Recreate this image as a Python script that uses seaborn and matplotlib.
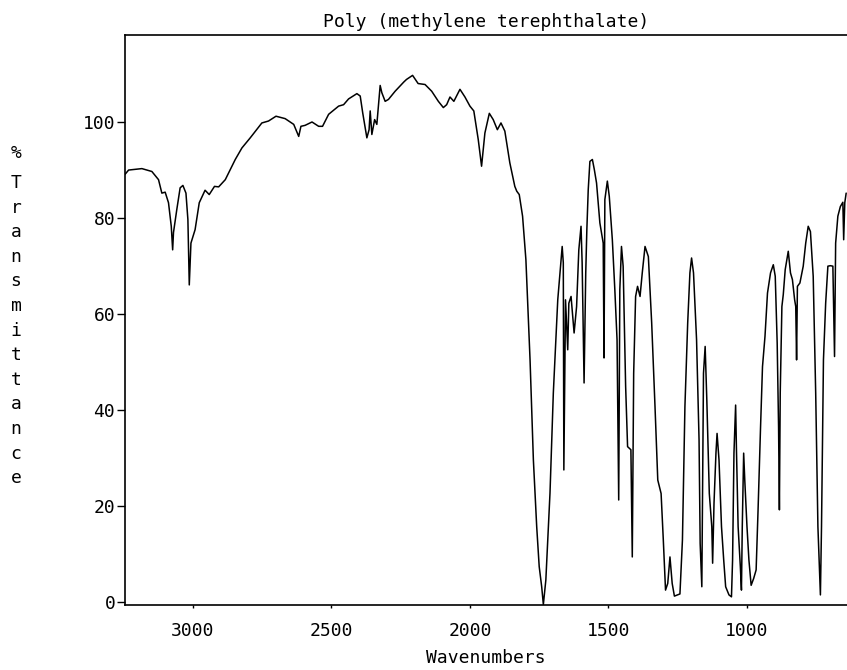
import matplotlib
matplotlib.use('Agg')
import matplotlib.pyplot as plt
import seaborn as sns
import pandas as pd

# IR spectrum, high to low wavenumber
wavenumber = [
    3245, 3232, 3184, 3148, 3124, 3112, 3100, 3088, 3078, 3073, 3070, 3058,
    3046, 3036, 3025, 3018, 3013, 3007, 2992, 2977, 2956, 2941, 2922, 2907,
    2883, 2847, 2823, 2793, 2751, 2727, 2700, 2667, 2636, 2618, 2610, 2595,
    2570, 2546, 2532, 2510, 2474, 2456, 2438, 2408, 2396, 2387, 2372, 2364,
    2360, 2354, 2344, 2336, 2324, 2318, 2306, 2294, 2270, 2239,
    2229, 2207, 2187, 2162, 2138, 2114, 2096, 2084, 2072, 2058, 2036, 2018,
    2000, 1986, 1970, 1958, 1946, 1930, 1916, 1901, 1888, 1874, 1856, 1838,
    1831, 1822, 1810, 1798, 1783, 1771, 1759, 1750, 1741, 1735, 1726, 1711,
    1699,
    1683, 1675, 1667, 1663, 1661, 1655, 1647, 1643, 1635, 1624, 1615, 1607,
    1599, 1595, 1588, 1582, 1578, 1573, 1567, 1558, 1551, 1543, 1531, 1519,
    1516, 1513, 1504, 1497, 1486, 1477, 1469, 1463, 1459, 1453, 1447, 1438,
    1431, 1419, 1414, 1409, 1402, 1395, 1386, 1378, 1368, 1356, 1344, 1332,
    1322, 1310, 1302, 1294, 1286, 1278, 1270, 1262, 1242, 1233, 1224, 1214,
    1206, 1200, 1193, 1182, 1173,
    1169, 1163, 1157, 1151, 1145, 1136, 1127, 1124, 1119, 1112, 1108, 1101,
    1092, 1084, 1077, 1065, 1056, 1052, 1047, 1041, 1038, 1032, 1024, 1020,
    1017, 1012, 1008, 1000, 993, 985, 976, 967, 960, 951, 944, 935,
    926, 915, 905, 898, 891, 886, 883, 880, 874, 869, 862, 851,
    843, 836, 828, 824, 821, 818, 809, 797, 788, 779, 771, 761,
    752, 744, 738, 735, 731, 724, 716, 708, 699, 690, 684, 680,
    672, 663, 654, 651, 647, 642,
]
transmittance = [
    89.0, 89.9, 90.2, 89.6, 87.9, 85.1, 85.3, 83.1, 78.2, 73.3, 76.9, 81.7,
    86.2, 86.7, 85.1, 79.6, 66.0, 74.7, 77.5, 83.1, 85.7, 84.8, 86.5, 86.4,
    87.9, 92.1, 94.5, 96.6, 99.7, 100.1, 101.1, 100.6, 99.4, 96.9, 99.0, 99.2,
    99.9, 99.0, 99.0, 101.5, 103.2, 103.5, 104.7, 105.8, 105.3, 101.8, 96.6, 98.3,
    102.2, 97.3, 100.4, 99.4, 107.5, 106.0, 104.2, 104.6, 106.3, 108.2,
    108.75, 109.6, 107.9, 107.7, 106.3, 104.2, 102.9, 103.5, 105.1, 104.2, 106.7, 105.1,
    103.2, 102.2, 96.25, 90.7, 97.6, 101.7, 100.4, 98.3, 99.7, 98.0, 91.4, 86.5,
    85.5, 84.8, 80.3, 71.25, 50.4, 29.6, 15.7, 7.4, 3.2, -0.5, 4.6, 22.7,
    43.5,
    62.9, 68.5, 74.0, 70.6, 27.5, 62.9, 52.5, 62.2, 63.6, 56.0, 61.5, 73.3,
    78.2, 70.6, 45.6, 68.5, 77.5, 85.8, 91.7, 92.1, 90.0, 87.2, 78.9, 74.7,
    50.8, 83.75, 87.6, 84.4, 75.4, 65.0, 54.6, 21.25, 65.0, 74.0, 69.9, 44.9,
    32.35, 31.7, 9.4, 47.6, 63.6, 65.7, 63.6, 68.5, 74.0, 71.9, 58.1, 40.7,
    25.4, 22.6, 12.9, 2.5, 3.9, 9.4, 3.9, 1.25, 1.7, 12.9, 40.7, 58.1,
    68.5, 71.6, 68.5, 54.6, 33.75,
    12.2, 3.2, 47.6, 53.2, 42.1, 22.6, 15.7, 8.1, 20.6, 31.0, 35.1, 29.6,
    15.7, 8.75, 3.2, 1.5, 1.1, 8.75, 31.0, 41.0, 31.7, 15.7, 7.4, 2.5,
    15.7, 31.0, 25.4, 15.7, 8.75, 3.5, 4.9, 6.7, 19.2, 36.5, 49.0, 55.3,
    64.3, 68.5, 70.2, 67.8, 53.9, 36.5, 19.2, 43.5, 61.5, 64.0, 69.2, 73.0,
    68.5, 67.1, 62.9, 61.5, 50.4, 65.7, 66.4, 69.9, 74.7, 78.2, 77.1, 67.8,
    43.5, 15.7, 6.0, 1.5, 15.7, 50.4, 62.2, 69.9, 70.0, 69.9, 51.1, 74.7,
    80.3, 82.3, 83.2, 75.4, 83.1, 85.1,
]

x_ticks = [3000, 2500, 2000, 1500, 1000]
y_ticks = [0, 20, 40, 60, 80, 100]
title = "Poly (methylene terephthalate)"
ylabel = "%Transmittance"

sns.set_style("ticks")
plt.rcParams['font.family'] = ['DejaVu Sans Mono', 'DejaVu Sans']
plt.rcParams['text.color'] = 'black'
plt.rcParams['axes.labelcolor'] = 'black'

df = pd.DataFrame({"wavenumber": wavenumber, "T": transmittance})

fig = plt.figure(figsize=(8.47, 6.70), dpi=100)
ax = fig.add_axes([125 / 847, 65 / 670, 722 / 847, 570 / 670])

sns.lineplot(data=df, x="wavenumber", y="T", ax=ax, color="black",
             linewidth=1.1, estimator=None, sort=False)

ax.set_xlim(3245, 639)
ax.set_ylim(-0.6, 118)
ax.set_xticks(x_ticks)
ax.set_yticks(y_ticks)
ax.tick_params(axis="x", direction="out", length=2.5, width=1, pad=10,
               labelsize=13, colors="black")
ax.tick_params(axis="y", direction="out", length=6, width=1, pad=1,
               labelsize=13, colors="black")

for side in ["left", "top", "bottom"]:
    ax.spines[side].set_linewidth(1.2)
    ax.spines[side].set_color("black")
ax.spines["right"].set_visible(False)

ax.set_title(title, fontsize=13, pad=6, color="black")
ax.set_xlabel("Wavenumbers", fontsize=13, labelpad=6)
ax.set_ylabel("")

# stacked vertical y label, one glyph per line
letters = list(ylabel)
y_px = [153] + [183 + i * 24.6 for i in range(len(letters) - 1)]
for ch, yp in zip(letters, y_px):
    fig.text(16 / 847, 1 - yp / 670, ch, ha="center", va="center", fontsize=13)

fig.savefig("out.png", dpi=100)
